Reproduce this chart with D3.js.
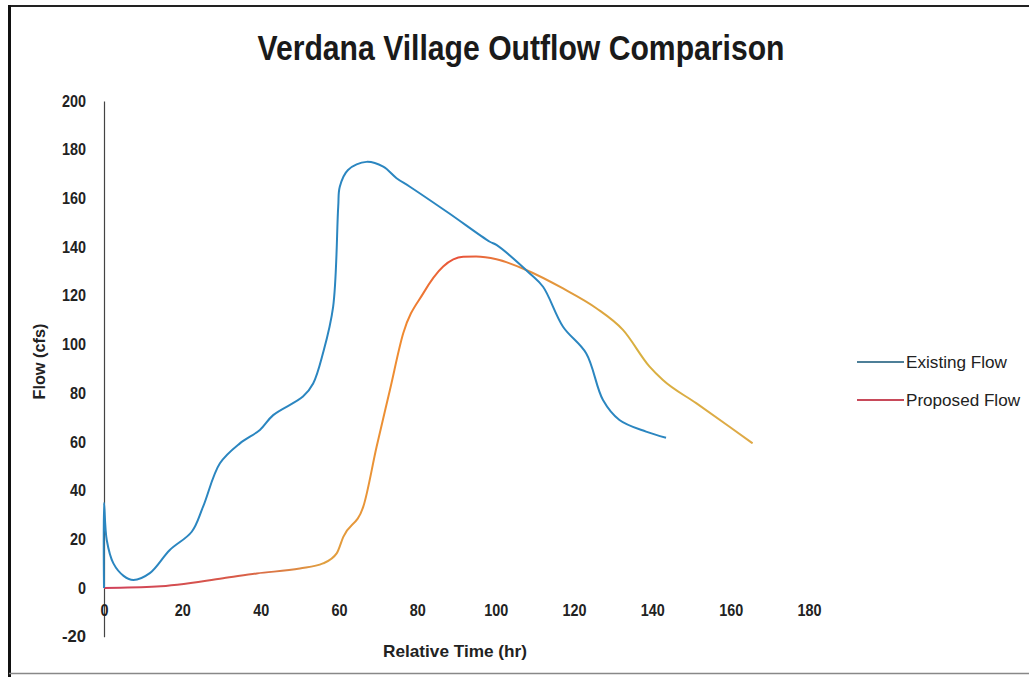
<!DOCTYPE html>
<html>
<head>
<meta charset="utf-8">
<script src="https://cdn.jsdelivr.net/npm/d3@7/dist/d3.min.js"></script>
<style>
  html, body { margin: 0; padding: 0; background: #fff; }
  svg { display: block; }
  .narrow { font-family: 'Liberation Sans Narrow', 'Arial Narrow', 'Liberation Sans', Arial, sans-serif; }
</style>
</head>
<body>
<svg id="chart" width="1029" height="677"></svg>
<script>
const title = "Verdana Village Outflow Comparison";
const xLabel = "Relative Time (hr)";
const yLabel = "Flow (cfs)";
const seriesNames = ["Existing Flow", "Proposed Flow"];
const xTicks = [0, 20, 40, 60, 80, 100, 120, 140, 160, 180];
const yTicks = [-20, 0, 20, 40, 60, 80, 100, 120, 140, 160, 180, 200];

const existingTime = [0, 0, 0.7, 2.4, 5, 7.5, 11.7, 16.8, 22.4, 25.3, 29.6, 34.7, 39.8, 43.2, 50.8, 53.4, 55.9, 58.5, 59.8, 60.2, 62.3, 67, 71.3, 74.7, 78.1, 88, 98.5, 100.2, 108.7, 112.1, 117.2, 123.1, 127.4, 131.6, 138.4, 143.5];
const existingFlow = [0, 35, 19.7, 10.1, 5, 3.3, 6.1, 15.6, 23.1, 33.4, 51.2, 59.4, 64.9, 71, 78.6, 84, 96.4, 115.5, 156.6, 164.8, 171.7, 175, 173, 168.3, 164.8, 154, 142.2, 140.9, 129.2, 123.7, 107.3, 96.4, 77.2, 69, 64.2, 61.7];

const proposedTime = [0, 13.4, 30.4, 39, 50, 55.9, 59.4, 61.1, 66.2, 69.6, 73, 76.4, 81.5, 86.6, 91.7, 95, 100.2, 107.8, 117.2, 125.7, 132.5, 139.3, 142.7, 151.2, 159.7, 165.6];
const proposedFlow = [0, 0.6, 4, 6, 8, 10.1, 14.2, 21, 33.4, 58, 81.3, 104.6, 121, 132, 136, 136.1, 135, 130.6, 123, 114.9, 106, 90.9, 85.4, 75.9, 66.2, 59.4];

const existing = existingTime.map((t, i) => ({ t, f: existingFlow[i] }));
const proposed = proposedTime.map((t, i) => ({ t, f: proposedFlow[i] }));

const svg = d3.select("#chart");

// frame
svg.append("line").attr("x1", 9).attr("x2", 1029).attr("y1", 6).attr("y2", 6).attr("stroke", "#222").attr("stroke-width", 2);
svg.append("line").attr("x1", 9.5).attr("x2", 9.5).attr("y1", 5).attr("y2", 677).attr("stroke", "#111").attr("stroke-width", 3);
svg.append("line").attr("x1", 9).attr("x2", 1029).attr("y1", 673.5).attr("y2", 673.5).attr("stroke", "#888").attr("stroke-width", 1.5);

const x = d3.scaleLinear().domain([0, 180]).range([104, 809]);
const y = d3.scaleLinear().domain([-20, 200]).range([636.7, 101]);

// title
svg.append("text").attr("class", "narrow")
  .attr("x", 521).attr("y", 60).attr("text-anchor", "middle")
  .attr("font-size", 35).attr("font-weight", "bold").attr("fill", "#1a1a1a")
  .attr("textLength", 527).attr("lengthAdjust", "spacingAndGlyphs")
  .text(title);

// y axis
const yAxis = d3.axisLeft(y).tickValues(yTicks).tickSize(0).tickPadding(18).tickFormat(d => String(d));
const gy = svg.append("g").attr("transform", `translate(${x(0)},0)`).call(yAxis);
gy.select(".domain").attr("stroke", "#444").attr("stroke-width", 1.2);
gy.selectAll("text").attr("class", "narrow").attr("font-size", 16).attr("font-weight", "bold").attr("fill", "#222")
  .attr("textLength", d => String(d).length * 8).attr("lengthAdjust", "spacingAndGlyphs");

// x axis (labels only, positioned below zero line)
const xAxis = d3.axisBottom(x).tickValues(xTicks).tickSize(0).tickPadding(17).tickFormat(d => String(d));
const gx = svg.append("g").attr("transform", `translate(0,${y(0)})`).call(xAxis);
gx.select(".domain").remove();
gx.selectAll("text").attr("class", "narrow").attr("font-size", 16).attr("font-weight", "bold").attr("fill", "#222")
  .attr("textLength", d => String(d).length * 8).attr("lengthAdjust", "spacingAndGlyphs");

// axis titles
svg.append("text").attr("class", "narrow")
  .attr("transform", `translate(45,${y(93)}) rotate(-90)`).attr("text-anchor", "middle")
  .attr("font-size", 16).attr("font-weight", "bold").attr("fill", "#222")
  .attr("textLength", 76).attr("lengthAdjust", "spacingAndGlyphs").text(yLabel);
svg.append("text").attr("class", "narrow")
  .attr("x", 455).attr("y", 657).attr("text-anchor", "middle")
  .attr("font-size", 17).attr("font-weight", "bold").attr("fill", "#222")
  .attr("textLength", 144).attr("lengthAdjust", "spacingAndGlyphs").text(xLabel);

// gradient for proposed line (scan colour variation)
const defs = svg.append("defs");
const grad = defs.append("linearGradient").attr("id", "propGrad")
  .attr("gradientUnits", "userSpaceOnUse")
  .attr("x1", x(0)).attr("x2", x(170)).attr("y1", 0).attr("y2", 0);
[[0, "#d0405a"], [0.2, "#d85a48"], [0.33, "#e0a040"], [0.45, "#f08a30"], [0.53, "#e8503a"], [0.62, "#e88a3a"], [0.8, "#d8b040"], [1, "#e0a848"]]
  .forEach(([o, c]) => grad.append("stop").attr("offset", o).attr("stop-color", c));

const line = d3.line().x(d => x(d.t)).y(d => y(d.f)).curve(d3.curveMonotoneX);

svg.append("path").datum(proposed).attr("d", line)
  .attr("fill", "none").attr("stroke", "url(#propGrad)").attr("stroke-width", 2);

const lineE = d3.line().x(d => x(d.t)).y(d => y(d.f)).curve(d3.curveCatmullRom.alpha(0.5));
svg.append("path").datum(existing).attr("d", lineE)
  .attr("fill", "none").attr("stroke", "#2b86c0").attr("stroke-width", 2);

// legend
const legendColors = ["#4d7f98", "#c84a5a"];
const legendLen = [101, 114];
const lg = svg.append("g");
seriesNames.forEach((name, i) => {
  const ly = 362 + i * 38;
  lg.append("line").attr("x1", 857).attr("x2", 904).attr("y1", ly).attr("y2", ly)
    .attr("stroke", legendColors[i]).attr("stroke-width", 2);
  lg.append("text").attr("class", "narrow").attr("x", 906).attr("y", ly + 6)
    .attr("font-size", 17).attr("fill", "#222")
    .attr("textLength", legendLen[i]).attr("lengthAdjust", "spacingAndGlyphs").text(name);
});
</script>
</body>
</html>
